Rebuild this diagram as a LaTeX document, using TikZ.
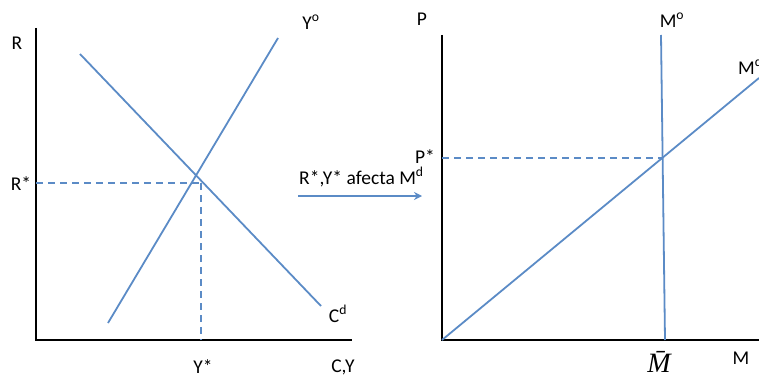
\documentclass[tikz,border=0pt]{standalone}
\usepackage{fontspec}
\setmainfont{Carlito}
\newfontfamily\mbarfont{Liberation Serif}
\usetikzlibrary{arrows.meta}
\definecolor{curveblue}{HTML}{5B8BC6}
\tikzset{
  axis/.style={line width=2pt, black},
  curve/.style={line width=1.8pt, curveblue},
  guide/.style={line width=1.6pt, curveblue, dash pattern=on 7pt off 5pt},
  lbl/.style={font=\fontsize{19.5}{22}\selectfont, inner sep=0pt},
}
\begin{document}
\begin{tikzpicture}[x=1pt,y=-1pt]
\useasboundingbox (0,0) rectangle (759,377);
% ---------- left panel ----------
\coordinate (LO) at (36,340);
\coordinate (LT) at (36,28);
\coordinate (LR) at (352,340);
\draw[axis] (LT) -- (LO) -- (LR);
\coordinate (Ya) at (108,323);
\coordinate (Yb) at (278,38);
\coordinate (Ca) at (80,54);
\coordinate (Cb) at (321,306);
\coordinate (E1) at (201,183);
\coordinate (E1y) at (36,183);
\coordinate (E1x) at (201,340);
\draw[guide] (E1y) -- (E1);
\draw[guide] (E1) -- (E1x);
\draw[curve] (Ya) -- (Yb);
\draw[curve] (Ca) -- (Cb);
\node[lbl] (R) at (17,43) {R};
\node[lbl] (Rs) at (21,184) {R*};
\node[lbl] (Ys) at (203,367) {Y*};
\node[lbl] (CY) at (343,367) {C,Y};
\node[lbl] (Yo) at (311,22) {Y\textsuperscript{o}};
\node[lbl] (Cd) at (338,314) {C\textsuperscript{d}};
% ---------- arrow ----------
\coordinate (A1) at (298,196);
\coordinate (A2) at (422,196);
\draw[curve, line width=1.6pt, -{Stealth[length=8pt,width=8pt]}] (A1) -- (A2);
\node[lbl, anchor=base west] (AL) at (299,184) {R*,Y* afecta M\textsuperscript{d}};
% ---------- right panel ----------
\coordinate (RO) at (442,340);
\coordinate (RT) at (442,35);
\coordinate (RR) at (759,340);
\draw[axis] (RT) -- (RO) -- (RR);
\coordinate (Ma) at (661,35);
\coordinate (Mb) at (665,340);
\coordinate (Da) at (442,340);
\coordinate (Db) at (759,78);
\coordinate (E2) at (663,158);
\coordinate (E2y) at (442,158);
\draw[guide] (E2y) -- (E2);
\draw[curve] (Ma) -- (Mb);
\draw[curve] (Da) -- (Db);
\node[lbl] (P) at (422,19) {P};
\node[lbl] (Ps) at (425,157) {P*};
\node[lbl] (Mo) at (672,20) {M\textsuperscript{o}};
\node[lbl, anchor=west] (Md) at (738,66) {M\textsuperscript{d}};
\node[lbl] (M) at (741,358) {M};
\node[inner sep=0pt, font=\mbarfont\itshape\fontsize{28}{32}\selectfont] (Mbar) at (659,362) {\=M};
\end{tikzpicture}
\end{document}
